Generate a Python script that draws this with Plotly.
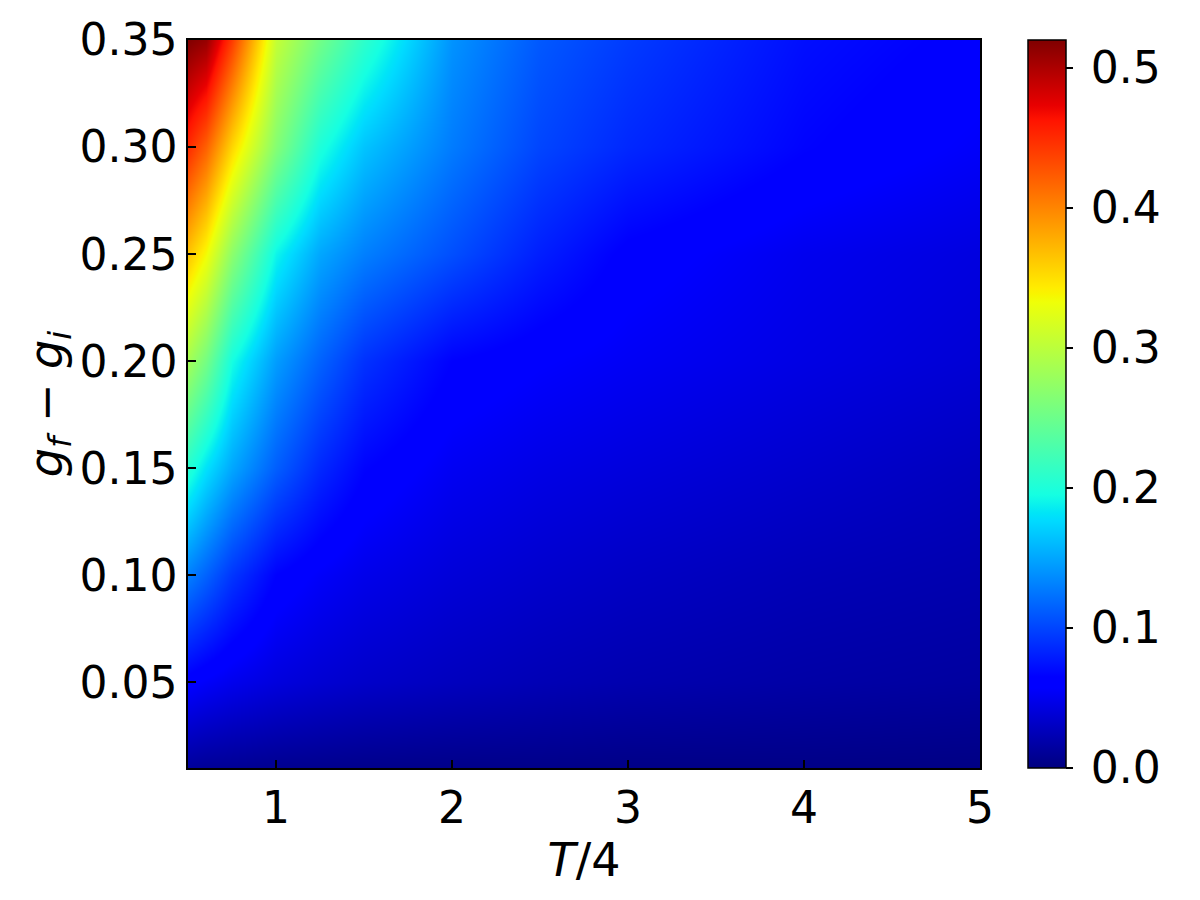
import plotly.graph_objects as go

# Horizontal axis: T/4
T_vals = [0.5, 0.6, 0.75, 1.0, 1.25, 1.5, 2.0, 2.5, 3.0, 4.0, 5.0]
# Vertical axis: g_f - g_i
g_vals = [0.01, 0.05, 0.10, 0.15, 0.20, 0.25, 0.30, 0.35]

# Estimated values (rows follow g_vals, columns follow T_vals)
row_g001 = [0.012, 0.010, 0.009, 0.007, 0.006, 0.005, 0.004, 0.004, 0.003, 0.003, 0.002]
row_g005 = [0.060, 0.055, 0.049, 0.042, 0.037, 0.033, 0.028, 0.024, 0.021, 0.017, 0.014]
row_g010 = [0.130, 0.115, 0.092, 0.065, 0.055, 0.048, 0.040, 0.035, 0.031, 0.025, 0.021]
row_g015 = [0.205, 0.180, 0.150, 0.113, 0.085, 0.066, 0.052, 0.046, 0.042, 0.035, 0.028]
row_g020 = [0.285, 0.255, 0.195, 0.145, 0.115, 0.090, 0.065, 0.058, 0.053, 0.045, 0.038]
row_g025 = [0.365, 0.335, 0.270, 0.190, 0.150, 0.130, 0.105, 0.080, 0.062, 0.050, 0.043]
row_g030 = [0.450, 0.420, 0.355, 0.265, 0.200, 0.165, 0.128, 0.100, 0.085, 0.066, 0.055]
row_g035 = [0.520, 0.510, 0.440, 0.305, 0.253, 0.210, 0.140, 0.110, 0.095, 0.072, 0.062]

z_rows = [row_g001, row_g005, row_g010, row_g015, row_g020, row_g025, row_g030, row_g035]

x_ticks = [1, 2, 3, 4, 5]
y_ticks = [0.05, 0.10, 0.15, 0.20, 0.25, 0.30, 0.35]
cb_ticks = [0.0, 0.1, 0.2, 0.3, 0.4, 0.5]
cb_tick_labels = ["0.0", "0.1", "0.2", "0.3", "0.4", "0.5"]

# matplotlib "jet" colormap segment data
jet_red = [(0, 0), (0.35, 0), (0.66, 1), (0.89, 1), (1, 0.5)]
jet_green = [(0, 0), (0.125, 0), (0.375, 1), (0.64, 1), (0.91, 0), (1, 0)]
jet_blue = [(0, 0.5), (0.11, 1), (0.34, 1), (0.65, 0), (1, 0)]


def seg(points, t):
    for (a, va), (b, vb) in zip(points[:-1], points[1:]):
        if a <= t <= b:
            return va if b == a else va + (vb - va) * (t - a) / (b - a)
    return points[-1][1]


stops = sorted(set([p[0] for p in jet_red + jet_green + jet_blue]))
jet = []
for s in stops:
    r, gg, b = (seg(jet_red, s), seg(jet_green, s), seg(jet_blue, s))
    jet.append([s, "rgb(%d,%d,%d)" % (round(r * 255), round(gg * 255), round(b * 255))])

FONT = "DejaVu Sans"
FS = 44

fig = go.Figure(
    go.Heatmap(
        x=T_vals,
        y=g_vals,
        z=z_rows,
        zmin=0,
        zmax=0.52,
        zsmooth="best",
        colorscale=jet,
        colorbar=dict(
            x=1.0606,
            xanchor="left",
            xpad=0,
            y=0.5,
            yanchor="middle",
            ypad=0,
            len=1.0,
            lenmode="fraction",
            thickness=38,
            outlinewidth=1.5,
            outlinecolor="black",
            tickmode="array",
            tickvals=cb_ticks,
            ticktext=["&#8201;" + t for t in cb_tick_labels],
            ticks="outside",
            ticklen=7,
            tickwidth=1.5,
            tickcolor="black",
            tickfont=dict(family=FONT, size=FS, color="black"),
        ),
    )
)

fig.update_layout(
    width=1200,
    height=900,
    margin=dict(l=188, r=220, t=40, b=132),
    paper_bgcolor="white",
    plot_bgcolor="white",
    font=dict(family=FONT, size=FS, color="black"),
)

fig.update_xaxes(
    range=[0.5, 5.0],
    tickvals=x_ticks,
    ticks="inside",
    ticklen=8,
    tickwidth=1.5,
    tickcolor="black",
    showline=True,
    linecolor="black",
    linewidth=1.5,
    mirror=True,
    showgrid=False,
    zeroline=False,
    tickfont=dict(family=FONT, size=FS),
    title=dict(text="<i>T</i>/4", font=dict(family=FONT, size=46), standoff=2),
)
fig.update_yaxes(
    range=[0.01, 0.35],
    tickvals=y_ticks,
    tickformat=".2f",
    ticks="inside",
    ticklen=8,
    tickwidth=1.5,
    tickcolor="black",
    showline=True,
    linecolor="black",
    linewidth=1.5,
    mirror=True,
    showgrid=False,
    zeroline=False,
    tickfont=dict(family=FONT, size=FS),
    title=dict(
        text="<i>g</i><sub><i>f</i></sub> − <i>g</i><sub><i>i</i></sub>",
        font=dict(family=FONT, size=46),
        standoff=2,
    ),
)

fig.write_html("out.html")
